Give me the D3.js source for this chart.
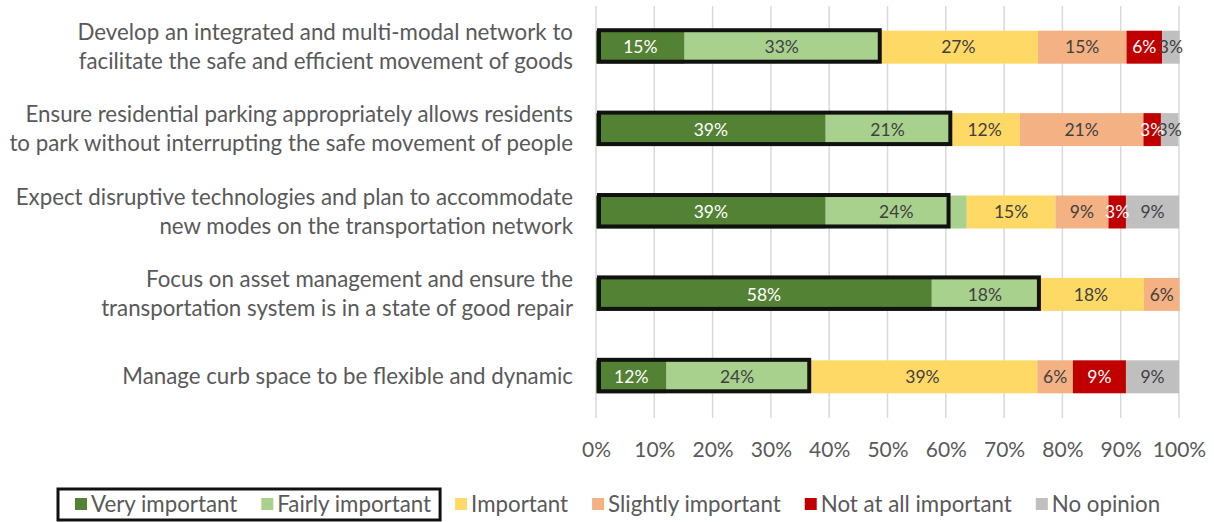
<!DOCTYPE html>
<html>
<head>
<meta charset="utf-8">
<script src="https://cdn.jsdelivr.net/npm/d3@7"></script>
<style>
  html, body { margin: 0; padding: 0; background: #ffffff; }
  svg { display: block; font-family: Lato, "Open Sans", sans-serif; }
</style>
</head>
<body>
<svg id="chart" width="1214" height="522"></svg>
<script>
// Survey priorities: share of respondents per importance rating (percent)
const categories = [
  "Develop an integrated and multi-modal network to\nfacilitate the safe and efficient movement of goods",
  "Ensure residential parking appropriately allows residents\nto park without interrupting the safe movement of people",
  "Expect disruptive technologies and plan to accommodate\nnew modes on the transportation network",
  "Focus on asset management and ensure the\ntransportation system is in a state of good repair",
  "Manage curb space to be flexible and dynamic"
];
const seriesNames = ["Very important", "Fairly important", "Important", "Slightly important", "Not at all important", "No opinion"];
const veryImportant     = [15.2, 39.4, 39.4, 57.6, 12.1];
const fairlyImportant   = [33.3, 21.2, 24.2, 18.2, 24.2];
const important         = [27.3, 12.1, 15.2, 18.2, 39.4];
const slightlyImportant = [15.2, 21.2,  9.1,  6.1,  6.1];
const notAtAll          = [ 6.1,  3.0,  3.0,  0,    9.1];
const noOpinion         = [ 3.0,  3.0,  9.1,  0,    9.1];
// extent of the outlined "important" group on each bar (percent)
const outlinedShare     = [48.5, 60.6, 60.3, 75.8, 36.4];
const xTicks = [0, 10, 20, 30, 40, 50, 60, 70, 80, 90, 100];

const colors = ["#548235", "#A9D18E", "#FFD966", "#F4B183", "#C00000", "#BFBFBF"];
const labelColors = ["#ffffff", "#404040", "#404040", "#404040", "#ffffff", "#404040"];

const seriesValues = [veryImportant, fairlyImportant, important, slightlyImportant, notAtAll, noOpinion];
const rows = categories.map((c, i) => {
  const r = { category: c };
  seriesNames.forEach((s, k) => { r[s] = seriesValues[k][i]; });
  return r;
});

const svg = d3.select("#chart");
const x = d3.scaleLinear().domain([0, 100]).range([596, 1179]);
const y = d3.scaleBand().domain(categories).range([6, 418]).paddingInner(0.6).paddingOuter(0.3);

// vertical gridlines
svg.append("g").selectAll("line").data(xTicks).join("line")
  .attr("x1", d => x(d)).attr("x2", d => x(d))
  .attr("y1", 6).attr("y2", 418)
  .attr("stroke", "#D9D9D9").attr("stroke-width", 1.5);

// x axis tick labels
const xAxis = d3.axisBottom(x).tickValues(xTicks).tickFormat(d => d + "%").tickSize(0).tickPadding(0);
const ax = svg.append("g").attr("transform", "translate(0,450)").call(xAxis);
ax.select(".domain").remove();
ax.selectAll("text")
  .attr("dy", "0.35em").attr("y", 0)
  .attr("fill", "#595959").style("font-size", "21px").style("font-family", "Lato, sans-serif");

// stacked bars
const stack = d3.stack().keys(seriesNames)(rows);
const layers = svg.append("g").selectAll("g").data(stack).join("g")
  .attr("fill", (d, i) => colors[i]);
layers.selectAll("rect").data(d => d).join("rect")
  .attr("x", d => x(d[0]))
  .attr("width", d => x(d[1]) - x(d[0]))
  .attr("y", d => y(d.data.category))
  .attr("height", y.bandwidth());

// value labels
const fmt = d3.format(".0f");
stack.forEach((layer, i) => {
  svg.append("g").selectAll("text").data(layer.filter(d => d[1] - d[0] > 0)).join("text")
    .attr("x", d => (x(d[0]) + x(d[1])) / 2)
    .attr("y", d => y(d.data.category) + y.bandwidth() / 2)
    .attr("dy", "0.35em")
    .attr("text-anchor", "middle")
    .attr("fill", labelColors[i])
    .style("font-size", "17.5px")
    .text(d => fmt(d[1] - d[0]) + "%");
});

// outline around the top two ratings
svg.append("g").selectAll("rect").data(outlinedShare).join("rect")
  .attr("x", x(0) + 3)
  .attr("y", (d, i) => y(categories[i]) - 0.5)
  .attr("width", d => x(d) + 1 - (x(0) + 3))
  .attr("height", y.bandwidth() - 1.5)
  .attr("fill", "none").attr("stroke", "#111111").attr("stroke-width", 4);

// category labels
const catG = svg.append("g");
categories.forEach(c => {
  const lines = c.split("\n");
  const cy = y(c) + y.bandwidth() / 2 - 0.5;
  const lh = 29;
  const t = catG.append("text")
    .attr("text-anchor", "end")
    .attr("fill", "#595959")
    .style("font-size", "22.3px");
  lines.forEach((ln, j) => {
    t.append("tspan")
      .attr("x", 573)
      .attr("y", cy + (j - (lines.length - 1) / 2) * lh)
      .attr("dy", "0.35em")
      .text(ln);
  });
});

// legend
const legend = svg.append("g");
const itemGap = 24, sw = 12;
let cursor = 0;
const items = seriesNames.map((name, i) => {
  const g = legend.append("g");
  g.append("rect").attr("width", sw).attr("height", sw).attr("y", -sw / 2).attr("fill", colors[i]);
  const t = g.append("text").attr("x", sw + 4).attr("dy", "0.35em")
    .attr("fill", "#595959").style("font-size", "22.3px").text(name);
  const w = sw + 4 + t.node().getComputedTextLength();
  const item = { g, start: cursor, end: cursor + w };
  cursor += w + itemGap;
  return item;
});
const lx0 = 75;
items.forEach(it => it.g.attr("transform", `translate(${lx0 + it.start},504)`));
legend.append("rect")
  .attr("x", lx0 + items[0].start - 17)
  .attr("y", 489)
  .attr("width", items[1].end - items[0].start + 17 + 9)
  .attr("height", 31)
  .attr("fill", "none").attr("stroke", "#111111").attr("stroke-width", 3);
</script>
</body>
</html>
